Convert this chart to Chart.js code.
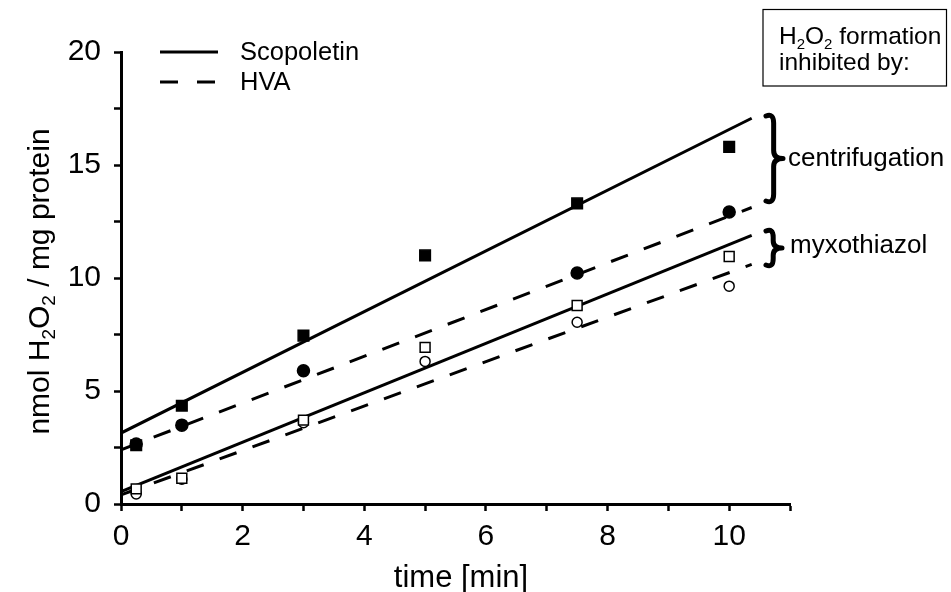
<!DOCTYPE html>
<html>
<head>
<meta charset="utf-8">
<script src="https://cdn.jsdelivr.net/npm/chart.js@4/dist/chart.umd.min.js"></script>
<style>
  html, body { margin: 0; padding: 0; background: #fff; }
  #wrap { width: 951px; height: 592px; }
</style>
</head>
<body>
<div id="wrap"><canvas id="h2o2Chart" width="951" height="592"></canvas></div>
<script>
// ---- data ----
const timePoints = [0.25, 1, 3, 5, 7.5, 10];           // min
const scopControl = [2.6, 4.35, 7.45, 11.0, 13.3, 15.8]; // filled squares
const hvaControl  = [2.65, 3.49, 5.9, null, 10.22, 12.92]; // filled circles
const scopInhib   = [0.67, 1.14, 3.71, 6.93, 8.78, 10.95]; // open squares
const hvaInhib    = [0.44, 1.1, 3.6, 6.31, 8.04, 9.64];    // open circles

// regression lines: value at fitX[0] and fitX[1]
const fitX = [0, 10.37];
const scopControlFit = [3.14, 17.07];
const hvaControlFit  = [2.4, 13.12];
const scopInhibFit   = [0.55, 11.89];
const hvaInhibFit    = [0.4, 10.6];

const xTicks = [0, 2, 4, 6, 8, 10];
const yTicks = [0, 5, 10, 15, 20];

const FONT = "'Liberation Sans', Arial, sans-serif";

function pts(xs, ys) {
  return xs.map((x, i) => ({ x: x, y: ys[i] }));
}

function fitLine(ys, dashed) {
  return {
    type: 'line',
    data: pts(fitX, ys),
    borderColor: '#000',
    borderWidth: 3,
    borderDash: dashed ? [18, 17] : [],
    pointRadius: 0,
    fill: false,
    order: 5
  };
}

// lower order is drawn on top
function markers(ys, style, filled, radius, order) {
  return {
    type: 'scatter',
    data: pts(timePoints, ys),
    pointStyle: style,
    pointRadius: radius,
    pointBackgroundColor: filled ? '#000' : '#fff',
    pointBorderColor: '#000',
    pointBorderWidth: 1.5,
    showLine: false,
    order: order
  };
}

// ---- extra drawing: titles, legend, annotation box, braces ----
function drawBrace(ctx, x, yTop, yBot, w) {
  const mid = (yTop + yBot) / 2;
  const xm = x + w * 0.45;
  const r = Math.min(8, (yBot - yTop) / 5);
  ctx.beginPath();
  ctx.moveTo(x, yTop + 1);
  ctx.quadraticCurveTo(xm, yTop - 2, xm, yTop + r);
  ctx.lineTo(xm, mid - r);
  ctx.quadraticCurveTo(xm, mid, x + w, mid);
  ctx.quadraticCurveTo(xm, mid, xm, mid + r);
  ctx.lineTo(xm, yBot - r);
  ctx.quadraticCurveTo(xm, yBot + 2, x, yBot - 1);
  ctx.stroke();
}

function drawSubText(ctx, parts, x, y, size) {
  // parts: [text, isSub]
  let cx = x;
  parts.forEach(([t, sub]) => {
    ctx.font = (sub ? Math.round(size * 0.62) : size) + 'px ' + FONT;
    ctx.fillText(t, cx, sub ? y + size * 0.2 : y);
    cx += ctx.measureText(t).width;
  });
  return cx - x;
}

function measureSubText(ctx, parts, size) {
  let w = 0;
  parts.forEach(([t, sub]) => {
    ctx.font = (sub ? Math.round(size * 0.62) : size) + 'px ' + FONT;
    w += ctx.measureText(t).width;
  });
  return w;
}

const decorPlugin = {
  id: 'decor',
  afterDraw(chart) {
    const ctx = chart.ctx;
    ctx.save();
    ctx.fillStyle = '#000';
    ctx.strokeStyle = '#000';
    ctx.textBaseline = 'alphabetic';

    // x title
    ctx.font = '31px ' + FONT;
    ctx.textAlign = 'center';
    ctx.fillText('time [min]', 461, 587);

    // y title, rotated, with subscripts
    const yParts = [['nmol H', false], ['2', true], ['O', false], ['2', true], [' / mg protein', false]];
    const yw = measureSubText(ctx, yParts, 30);
    ctx.save();
    ctx.translate(49, 281.5);
    ctx.rotate(-Math.PI / 2);
    ctx.textAlign = 'left';
    drawSubText(ctx, yParts, -yw / 2, 0, 30);
    ctx.restore();

    // legend
    ctx.lineWidth = 3;
    ctx.beginPath();
    ctx.moveTo(160, 52); ctx.lineTo(218, 52);
    ctx.stroke();
    ctx.setLineDash([18, 19]);
    ctx.beginPath();
    ctx.moveTo(160, 82); ctx.lineTo(216, 82);
    ctx.stroke();
    ctx.setLineDash([]);
    ctx.textAlign = 'left';
    ctx.font = '25.5px ' + FONT;
    ctx.fillText('Scopoletin', 240, 60);
    ctx.fillText('HVA', 240, 90);

    // annotation box
    ctx.lineWidth = 1.2;
    ctx.strokeRect(763, 9.5, 183.5, 76.5);
    drawSubText(ctx, [['H', false], ['2', true], ['O', false], ['2', true], [' formation', false]], 779, 44, 24.5);
    ctx.font = '24.5px ' + FONT;
    ctx.fillText('inhibited by:', 779, 70);

    // braces
    ctx.lineWidth = 5;
    ctx.lineCap = 'round';
    ctx.lineJoin = 'round';
    drawBrace(ctx, 766, 115, 202, 17);
    drawBrace(ctx, 766, 230, 266, 16);
    ctx.font = '26px ' + FONT;
    ctx.fillText('centrifugation', 788, 166);
    ctx.fillText('myxothiazol', 790, 253);

    ctx.restore();
  }
};

new Chart(document.getElementById('h2o2Chart'), {
  type: 'scatter',
  data: {
    datasets: [
      markers(scopControl, 'rect', true, 7.5, 1),
      markers(hvaControl, 'circle', true, 6, 2),
      markers(hvaInhib, 'circle', false, 5, 4),
      markers(scopInhib, 'rect', false, 7, 3),
      fitLine(scopControlFit, false),
      fitLine(hvaControlFit, true),
      fitLine(scopInhibFit, false),
      fitLine(hvaInhibFit, true)
    ]
  },
  options: {
    responsive: false,
    animation: false,
    devicePixelRatio: 1,
    layout: { padding: { left: 0, top: 52, right: 161, bottom: 0 } },
    plugins: { legend: { display: false }, tooltip: { enabled: false } },
    scales: {
      x: {
        type: 'linear',
        min: 0,
        max: 11,
        afterFit(s) { s.height = 88; },
        ticks: {
          stepSize: 1,
          autoSkip: false,
          maxRotation: 0,
          padding: 8,
          color: '#000',
          font: { family: FONT, size: 30 },
          callback: v => xTicks.includes(v) ? String(v) : ''
        },
        grid: { drawOnChartArea: false, drawTicks: true, tickLength: 7, tickWidth: 2.5, tickColor: '#000' },
        border: { display: true, color: '#000', width: 3 }
      },
      y: {
        min: 0,
        max: 20,
        afterFit(s) { s.width = 121; },
        ticks: {
          stepSize: 2.5,
          autoSkip: false,
          padding: 13,
          color: '#000',
          font: { family: FONT, size: 30 },
          callback: v => yTicks.includes(v) ? String(v) : ''
        },
        grid: { drawOnChartArea: false, drawTicks: true, tickLength: 7, tickWidth: 2.5, tickColor: '#000' },
        border: { display: true, color: '#000', width: 3 }
      }
    }
  },
  plugins: [decorPlugin]
});
</script>
</body>
</html>
